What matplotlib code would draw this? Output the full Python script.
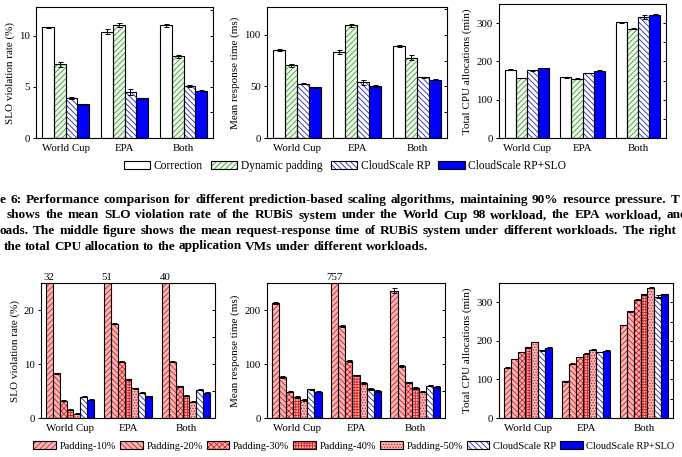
import matplotlib
matplotlib.use('Agg')
import matplotlib.pyplot as plt
import numpy as np
from matplotlib.patches import Patch
from matplotlib.ticker import MultipleLocator

plt.rcParams['font.family'] = ['Liberation Serif', 'DejaVu Serif']
plt.rcParams['hatch.linewidth'] = 0.6
plt.rcParams['axes.linewidth'] = 0.8

W, H = 682, 457

# ---------------- data ----------------
groups = ['World Cup', 'EPA', 'Both']

top_labels = ['Correction', 'Dynamic padding', 'CloudScale RP', 'CloudScale RP+SLO']
# SLO violation rate (%)
slo_correction = [10.8, 10.4, 11.0]
slo_dynamic = [7.2, 11.0, 8.0]
slo_rp = [3.9, 4.5, 5.1]
slo_rpslo = [3.3, 3.9, 4.6]
slo_err_correction = [0.05, 0.25, 0.15]
slo_err_dynamic = [0.25, 0.2, 0.15]
slo_err_rp = [0.08, 0.3, 0.1]
slo_err_rpslo = [0.05, 0.05, 0.05]
# mean response time (ms)
rt_correction = [85.5, 83.2, 88.8]
rt_dynamic = [70.3, 109.4, 78.0]
rt_rp = [52.6, 53.9, 59.0]
rt_rpslo = [49.4, 50.6, 56.7]
rt_err_correction = [0.8, 2.0, 1.0]
rt_err_dynamic = [1.5, 1.5, 2.0]
rt_err_rp = [0.5, 2.5, 0.5]
rt_err_rpslo = [0.5, 0.8, 0.5]
# total CPU allocations (min)
cpu_correction = [178, 159, 302]
cpu_dynamic = [157, 155, 286]
cpu_rp = [177, 170, 317]
cpu_rpslo = [183, 176, 322]
cpu_err_correction = [1, 1, 1]
cpu_err_dynamic = [1, 1, 1]
cpu_err_rp = [1, 1, 5]
cpu_err_rpslo = [1, 1, 1]

bot_labels = ['Padding-10%', 'Padding-20%', 'Padding-30%', 'Padding-40%',
              'Padding-50%', 'CloudScale RP', 'CloudScale RP+SLO']
# bottom row, one list per series (World Cup, EPA, Both)
slo_pad10 = [32, 51, 40]
slo_pad20 = [8.3, 17.5, 10.4]
slo_pad30 = [3.2, 10.4, 5.9]
slo_pad40 = [1.5, 7.2, 4.1]
slo_pad50 = [0.8, 5.5, 3.0]
slo_rp2 = [3.9, 4.7, 5.2]
slo_rpslo2 = [3.4, 4.0, 4.7]

rt_pad10 = [213, 757, 236]
rt_pad20 = [76, 170, 96]
rt_pad30 = [49, 105, 66]
rt_pad40 = [39, 79, 56]
rt_pad50 = [33, 65, 49]
rt_rp2 = [53, 54, 60]
rt_rpslo2 = [49, 50, 57]

cpu_pad10 = [130, 95, 241]
cpu_pad20 = [153, 141, 277]
cpu_pad30 = [171, 158, 307]
cpu_pad40 = [183, 167, 321]
cpu_pad50 = [197, 177, 338]
cpu_rp2 = [176, 171, 315]
cpu_rpslo2 = [182, 175, 321]

err_small_slo = [0.1, 0.1, 0.1]
err_small_rt = [1.5, 1.5, 1.5]
err_small_cpu = [1.0, 1.0, 1.0]
err_rp_both_cpu = [1.0, 1.0, 5.0]
err_rt_pad10 = [2.0, 0, 5.0]

caption_lines = [
    "e 6: Performance comparison for different prediction-based scaling algorithms, "
    "maintaining 90% resource pressure. T",
    "shows the mean SLO violation rate of the RUBiS system under the World Cup 98 "
    "workload, the EPA workload, and",
    "oads. The middle figure shows the mean request-response time of RUBiS system "
    "under different workloads. The right",
    "the total CPU allocation to the application VMs under different workloads.",
]

# ---------------- styles ----------------
top_styles = [
    dict(face='white', hatch=None, hc='black'),
    dict(face='#eef8e8', hatch='//////', hc='#3f9a3f'),
    dict(face='white', hatch='\\\\\\\\\\\\', hc='#2020c8'),
    dict(face='#0000ff', hatch=None, hc='black'),
]
pad_face = '#f6b8b8'
pad_hc = '#e01818'
bot_styles = [
    dict(face=pad_face, hatch='//////', hc=pad_hc),
    dict(face=pad_face, hatch='\\\\\\\\\\\\', hc=pad_hc),
    dict(face=pad_face, hatch='xxxxxx', hc=pad_hc),
    dict(face=pad_face, hatch='++++++', hc=pad_hc),
    dict(face=pad_face, hatch='......', hc=pad_hc),
    dict(face='white', hatch='\\\\\\\\\\\\', hc='#2020c8'),
    dict(face='#0000ff', hatch=None, hc='black'),
]

FS_TICK = 7.8
FS_LAB = 8.0


def add_axes(x0, y0, x1, y1):
    return fig.add_axes([x0 / W, 1 - y1 / H, (x1 - x0) / W, (y1 - y0) / H])


def draw_bars(ax, series, errs, styles, width):
    n = len(series)
    x = np.arange(len(groups))
    for i, (vals, e, st) in enumerate(zip(series, errs, styles)):
        pos = x + (i - (n - 1) / 2) * width
        ax.bar(pos, vals, width, color=st['face'], edgecolor=st['hc'],
               hatch=st['hatch'], linewidth=0, zorder=2)
        ax.bar(pos, vals, width, fill=False, edgecolor='black', linewidth=0.8,
               zorder=3)
        if e is not None:
            ax.errorbar(pos, vals, yerr=e, fmt='none', ecolor='black',
                        elinewidth=0.7, capsize=1.8, capthick=0.7, zorder=4)


def style_axes(ax, ylim, major, minor, ylabel):
    ax.set_xlim(-0.5, 2.5)
    ax.set_ylim(0, ylim)
    ax.set_xticks(range(len(groups)))
    ax.set_xticklabels(groups, fontsize=FS_TICK)
    ax.tick_params(axis='x', length=0, pad=4)
    ax.yaxis.set_major_locator(MultipleLocator(major))
    ax.tick_params(axis='y', direction='out', length=2.5, width=0.7,
                   labelsize=FS_TICK, pad=2)
    ax.set_ylabel(ylabel, fontsize=FS_LAB, labelpad=3)
    tw = ax.twinx()
    tw.set_ylim(0, ylim)
    tw.yaxis.set_major_locator(MultipleLocator(major))
    tw.yaxis.set_minor_locator(MultipleLocator(minor))
    tw.tick_params(axis='y', which='both', direction='in', length=2.5,
                   width=0.7, labelright=False)
    for s in tw.spines.values():
        s.set_visible(False)
    return tw


fig = plt.figure(figsize=(W / 100, H / 100), dpi=100)

# ---------------- top row ----------------
ax1 = add_axes(36, 7, 213, 138)
draw_bars(ax1, [slo_correction, slo_dynamic, slo_rp, slo_rpslo],
          [slo_err_correction, slo_err_dynamic, slo_err_rp, slo_err_rpslo],
          top_styles, 0.2)
style_axes(ax1, 12.8, 5, 2.5, 'SLO violation rate (%)')

ax2 = add_axes(267, 7, 447, 138)
draw_bars(ax2, [rt_correction, rt_dynamic, rt_rp, rt_rpslo],
          [rt_err_correction, rt_err_dynamic, rt_err_rp, rt_err_rpslo],
          top_styles, 0.2)
style_axes(ax2, 127, 50, 25, 'Mean response time (ms)')

ax3 = add_axes(499, 4, 666, 138)
draw_bars(ax3, [cpu_correction, cpu_dynamic, cpu_rp, cpu_rpslo],
          [cpu_err_correction, cpu_err_dynamic, cpu_err_rp, cpu_err_rpslo],
          top_styles, 0.2)
style_axes(ax3, 350, 100, 50, 'Total CPU allocations (min)')

# ---------------- bottom row ----------------
bw = 0.12
ax4 = add_axes(41, 283, 215, 418)
draw_bars(ax4, [slo_pad10, slo_pad20, slo_pad30, slo_pad40, slo_pad50, slo_rp2, slo_rpslo2],
          [None] + [err_small_slo] * 6, bot_styles, bw)
style_axes(ax4, 25, 10, 5, 'SLO violation rate (%)')

ax5 = add_axes(267, 283, 445, 418)
draw_bars(ax5, [rt_pad10, rt_pad20, rt_pad30, rt_pad40, rt_pad50, rt_rp2, rt_rpslo2],
          [err_rt_pad10] + [err_small_rt] * 6, bot_styles, bw)
style_axes(ax5, 250, 100, 50, 'Mean response time (ms)')

ax6 = add_axes(499, 283, 673, 418)
draw_bars(ax6, [cpu_pad10, cpu_pad20, cpu_pad30, cpu_pad40, cpu_pad50, cpu_rp2, cpu_rpslo2],
          [err_small_cpu] * 5 + [err_rp_both_cpu, err_small_cpu], bot_styles, bw)
style_axes(ax6, 350, 100, 50, 'Total CPU allocations (min)')

# labels for clipped bars
for ax, vals in [(ax4, slo_pad10), (ax5, rt_pad10)]:
    top = ax.get_ylim()[1]
    first = np.arange(len(groups)) - 3 * bw
    for xp, v in zip(first, vals):
        if v > top:
            ax.text(xp, top * 1.01, f'{v}', ha='center', va='bottom',
                    fontsize=FS_TICK, clip_on=False)


# ---------------- legends ----------------
def handles(styles):
    hs = []
    for st in styles:
        hs.append((Patch(facecolor=st['face'], edgecolor=st['hc'], hatch=st['hatch'], linewidth=0),
                   Patch(fill=False, edgecolor='black', linewidth=0.8)))
    return hs


leg1 = fig.legend(handles(top_styles), top_labels, loc='center',
                  bbox_to_anchor=(345 / W, 1 - 166 / H), ncol=4, frameon=False,
                  fontsize=8.3, handlelength=2.3, handleheight=0.8,
                  handletextpad=0.3, columnspacing=0.7, borderpad=0, borderaxespad=0)
leg2 = fig.legend(handles(bot_styles), bot_labels, loc='center',
                  bbox_to_anchor=(354 / W, 1 - 446 / H), ncol=7, frameon=False,
                  fontsize=7.5, handlelength=2.2, handleheight=0.8,
                  handletextpad=0.35, columnspacing=0.35, borderpad=0, borderaxespad=0)

# ---------------- caption (justified, bold) ----------------
renderer = fig.canvas.get_renderer()


def natural_width(s, fs):
    t = fig.text(0, 0, s, fontsize=fs, fontweight='bold')
    w = t.get_window_extent(renderer).width
    t.remove()
    return w


# font size such that the first (full) line fits its span with normal spacing
cap_fs = 10 * 672 / natural_width(caption_lines[0], 10)
space_w = natural_width('a a', cap_fs) - natural_width('aa', cap_fs)

cap_layout = [(0, 680, 199.0, True), (7, 688, 214.5, True),
              (0, 677, 230.0, True), (4, None, 245.5, False)]
for text, (x0, x1, yc, justify) in zip(caption_lines, cap_layout):
    words = text.split(' ')
    arts = [fig.text(0, 1 - (yc + 4) / H, w, fontsize=cap_fs, fontweight='bold',
                     va='baseline', ha='left') for w in words]
    widths = [a.get_window_extent(renderer).width for a in arts]
    gap = (x1 - x0 - sum(widths)) / (len(words) - 1) if justify else space_w
    xc = x0
    for a, w in zip(arts, widths):
        a.set_x(xc / W)
        xc += w + gap

fig.savefig('out.png', dpi=100)
